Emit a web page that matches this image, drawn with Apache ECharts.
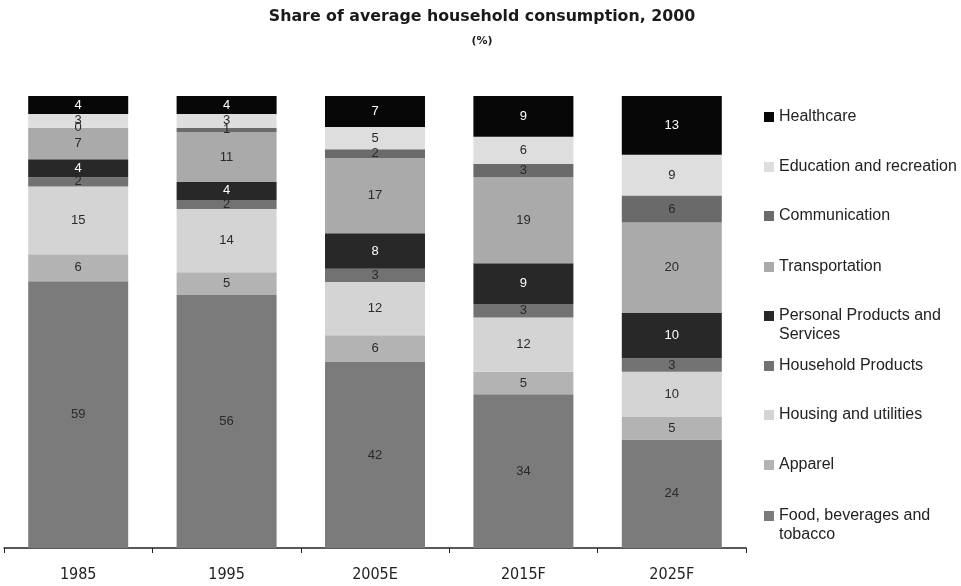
<!DOCTYPE html>
<html>
<head>
<meta charset="utf-8">
<script src="https://cdn.jsdelivr.net/npm/echarts@6/dist/echarts.min.js"></script>
<style>
  html, body { margin: 0; padding: 0; background: #ffffff; }
  #chart { width: 961px; height: 586px; }
</style>
</head>
<body>
<div id="chart"></div>
<script>
// Periods on the x axis
var categories = ['1985', '1995', '2005E', '2015F', '2025F'];

// Consumption shares (%) per category, bottom of the stack first
var food          = [59, 56, 42, 34, 24];
var apparel       = [6, 5, 6, 5, 5];
var housing       = [15, 14, 12, 12, 10];
var household     = [2, 2, 3, 3, 3];
var personal      = [4, 4, 8, 9, 10];
var transport     = [7, 11, 17, 19, 20];
var communication = [0, 1, 2, 3, 6];
var education     = [3, 3, 5, 6, 9];
var healthcare    = [4, 4, 7, 9, 13];

var seriesDefs = [
  { name: 'Food, beverages and tobacco', values: food,          color: '#7b7b7b', label: '#2a2a2a' },
  { name: 'Apparel',                     values: apparel,       color: '#b3b3b3', label: '#2a2a2a' },
  { name: 'Housing and utilities',       values: housing,       color: '#d4d4d4', label: '#2a2a2a' },
  { name: 'Household Products',          values: household,     color: '#727272', label: '#2a2a2a' },
  { name: 'Personal Products and Services', values: personal,  color: '#282828', label: '#ffffff' },
  { name: 'Transportation',              values: transport,     color: '#aaaaaa', label: '#2a2a2a' },
  { name: 'Communication',               values: communication, color: '#6a6a6a', label: '#2a2a2a' },
  { name: 'Education and recreation',    values: education,     color: '#dedede', label: '#2a2a2a' },
  { name: 'Healthcare',                  values: healthcare,    color: '#070707', label: '#ffffff' }
];

// Column totals, so every column is drawn as a 100% stack
var totals = categories.map(function (c, i) {
  return seriesDefs.reduce(function (s, d) { return s + d.values[i]; }, 0);
});

var FONT = '"Liberation Sans", Arial, sans-serif';
var NARROW = '"Liberation Sans Narrow", "Arial Narrow", "DejaVu Sans Condensed", sans-serif';

var series = seriesDefs.map(function (d) {
  return {
    name: d.name,
    type: 'bar',
    stack: 'share',
    barWidth: 100,
    itemStyle: { color: d.color },
    label: {
      show: true,
      position: 'inside',
      fontFamily: FONT,
      fontSize: 13,
      color: d.label,
      formatter: function (p) { return p.data.raw; }
    },
    data: d.values.map(function (v, i) {
      return { value: v / totals[i] * 100, raw: v };
    })
  };
});

// Legend entries, top to bottom, with the vertical centre of each first line
var legendRows = [
  { name: 'Healthcare', y: 117 },
  { name: 'Education and recreation', y: 167 },
  { name: 'Communication', y: 216 },
  { name: 'Transportation', y: 267 },
  { name: 'Personal Products and Services', y: 316, lines: ['Personal Products and', 'Services'] },
  { name: 'Household Products', y: 366 },
  { name: 'Housing and utilities', y: 415 },
  { name: 'Apparel', y: 465 },
  { name: 'Food, beverages and tobacco', y: 516, lines: ['Food, beverages and', 'tobacco'] }
];

var LH = 19;
var legends = legendRows.map(function (r) {
  var twoLines = !!r.lines;
  // Two-line entries get a blank first line so the marker sits beside the first text line
  var text = twoLines ? ' \n' + r.lines.join('\n') : r.name;
  return {
    orient: 'vertical',
    left: 764,
    top: twoLines ? r.y - 1.5 * LH : r.y - LH / 2,
    padding: 0,
    itemWidth: 10,
    itemHeight: 10,
    icon: 'rect',
    selectedMode: false,
    data: [r.name],
    formatter: function () { return text; },
    textStyle: {
      fontFamily: FONT,
      fontSize: 16,
      color: '#222222',
      lineHeight: LH
    }
  };
});

var chart = echarts.init(document.getElementById('chart'), null, { renderer: 'canvas' });
chart.setOption({
  animation: false,
  backgroundColor: '#ffffff',
  title: {
    text: 'Share of average household consumption, 2000',
    subtext: '(%)',
    left: 477,
    textAlign: 'center',
    top: 4,
    itemGap: 11,
    textStyle: { fontFamily: '"DejaVu Sans", sans-serif', fontSize: 15.8, fontWeight: 'bold', color: '#1a1a1a' },
    subtextStyle: { fontFamily: '"DejaVu Sans", sans-serif', fontSize: 11, fontWeight: 'bold', color: '#1a1a1a' }
  },
  legend: legends,
  grid: { left: 4, right: 215, top: 96, bottom: 38, containLabel: false },
  xAxis: {
    type: 'category',
    data: categories,
    boundaryGap: true,
    axisLine: { lineStyle: { color: '#222222', width: 1.5 } },
    axisTick: { show: true, length: 5, lineStyle: { color: '#222222' } },
    axisLabel: { fontFamily: NARROW, fontSize: 16, color: '#222222', margin: 19 }
  },
  yAxis: {
    type: 'value',
    min: 0,
    max: 100,
    show: false,
    splitLine: { show: false }
  },
  series: series
});
</script>
</body>
</html>
